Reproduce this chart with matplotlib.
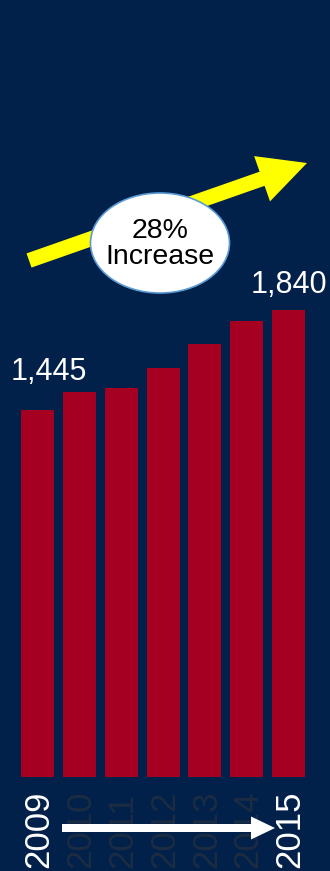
import matplotlib
matplotlib.use("Agg")
import matplotlib.pyplot as plt
from matplotlib.patches import Ellipse, FancyArrow

years = ["2009", "2010", "2011", "2012", "2013", "2014", "2015"]
values = [1445, 1516, 1532, 1610, 1705, 1795, 1840]
value_labels = {0: "1,445", 6: "1,840"}
highlight_years = {"2009", "2015"}
growth_text = "28%\nIncrease"

BG = "#01214a"
BAR = "#a50021"
DIM = "#1c2c42"
FONT = ["Liberation Sans", "DejaVu Sans"]

W, H = 330, 871
fig = plt.figure(figsize=(W / 100, H / 100), dpi=100, facecolor=BG)

# bar axes: baseline sits 94 px above the bottom edge
ax = fig.add_axes([0, 94 / H, 1, 777 / H])
ax.set_facecolor(BG)
x = list(range(len(values)))
ax.bar(x, values, width=0.79, color=BAR, zorder=2)
ax.set_xlim(-0.896, 6.99)
ax.set_ylim(0, 3060)
ax.axis("off")

offsets = {0: (11.5, 30), 6: (0, 17)}
for i, txt in value_labels.items():
    dx, dy = offsets[i]
    ax.annotate(txt, xy=(i, values[i]), xytext=(dx, dy), textcoords="offset pixels",
                ha="center", va="baseline", color="white", fontsize=22, family=FONT)

# overlay axes in pixel coordinates (origin top-left)
ov = fig.add_axes([0, 0, 1, 1], facecolor="none")
ov.set_xlim(0, W)
ov.set_ylim(H, 0)
ov.axis("off")

# year labels under each bar, only the first and last stand out
centers_px = [37.5 + 41.83 * i for i in x]
for i, yr in enumerate(years):
    col = "white" if yr in highlight_years else DIM
    ov.text(centers_px[i] + 1.5, 868, yr, rotation=90, ha="center", va="bottom",
            color=col, fontsize=25, family=FONT, zorder=1)

# white timeline arrow
ov.add_patch(FancyArrow(62, 828, 213, 0, width=8, head_width=23, head_length=24,
                        length_includes_head=True, color="white", lw=0, zorder=3))

# yellow growth arrow
tail = (29, 260.5)
tip = (307, 163)
ov.add_patch(FancyArrow(tail[0], tail[1], tip[0] - tail[0], tip[1] - tail[1],
                        width=15, head_width=48, head_length=47.6,
                        length_includes_head=True, color="#ffff00", lw=0, zorder=3))

ov.add_patch(Ellipse((160, 243), 139, 100, facecolor="white", edgecolor="#5b9bd5",
                     lw=1.2, zorder=4))
ov.text(160, 244, growth_text, ha="center", va="center", color="black",
        fontsize=20.5, family=FONT, linespacing=1.0, zorder=5)

fig.savefig("out.png", dpi=100, facecolor=BG)
